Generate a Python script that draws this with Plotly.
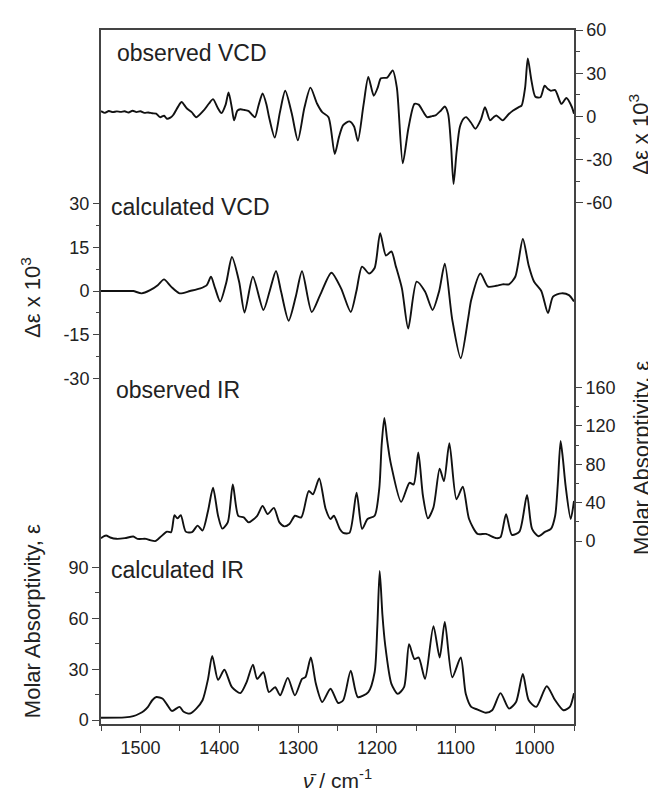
import plotly.graph_objects as go

# ---------------- data ----------------
obs_vcd_nu = [1550, 1545, 1540, 1535, 1530, 1525, 1520, 1515, 1510, 1505, 1500, 1495, 1490, 1485, 1480,
              1475, 1470, 1466.4, 1462, 1458.4, 1452, 1447.8, 1441, 1435, 1429.1, 1420, 1413, 1407.9,
              1402, 1397.2, 1392, 1388.2, 1384, 1381.2, 1377, 1373.2, 1368, 1362.6, 1358, 1354.6, 1350,
              1345.0, 1340, 1337, 1329.6, 1323, 1316.3, 1308, 1300.3, 1292, 1284.3, 1276, 1269.4,
              1261.4, 1253.5, 1248, 1242.8, 1234.8, 1229, 1224.2, 1217, 1210.9, 1204.0, 1199, 1194.9,
              1186.9, 1180.0, 1174.7, 1167.2, 1160, 1152.3, 1147.0, 1142, 1136.3, 1130, 1125.7, 1119,
              1113.9, 1109.7, 1106, 1102.8, 1099, 1094.8, 1090, 1086.8, 1081, 1075.1, 1068, 1062.9,
              1056.5, 1052, 1048.5, 1040.5, 1033, 1027.2, 1020, 1016.5, 1012, 1008.6, 1004, 999.0,
              992.6, 987.3, 983, 979.3, 973.9, 966.0, 959.6, 952.6, 950]
obs_vcd_val = [3.7, 2.5, 3.8, 3.0, 3.5, 3.2, 3.6, 2.8, 4.0, 3.0, 3.6, 2.5, 2.8, 2.2, 2.0,
               -0.5, 0.5, -1.6, -0.8, 1.0, 7, 10, 5.5, 3, -0.5, 4, 9, 12,
               6, 2.3, 8, 16.7, 6, -2.7, 4, 5, 4.5, 3.7, 1, -0.5, 8,
               16, 8, 0, -14.6, 3, 17.8, 2, -16.5, 6, 20, 9, 3,
               -0.5, -26, -14, -6, -3.4, -7, -17, 8, 27.4, 14.4, 20, 26.5,
               27, 32, 20, -32.5, -8, 8.7, 8.2, 4, -0.5, 0.2, 0.7, 4,
               6.9, 1.8, -20, -46.9, -25, -7.3, -1.5, -0.5, -4, -8.5, -2, 6.4,
               -2.7, -0.5, 0.7, -2.7, 1.5, 4.1, 6.5, 7.5, 20, 40.2, 25, 13.7,
               13.3, 21.3, 19, 17.8, 18.3, 8.7, 12.8, 6.4, 1.8]

calc_vcd_nu = [1550, 1530, 1515, 1509, 1498.4, 1487.7, 1478, 1470.1, 1461.1, 1450.4, 1437.1, 1423.8,
               1415.8, 1410.5, 1405.2, 1398.8, 1391, 1383.9, 1374.8, 1367.9, 1357.3, 1344.0, 1336,
               1328.0, 1321.6, 1312.0, 1303, 1295.0, 1282.7, 1272.1, 1257.7, 1245.5, 1233.2, 1226,
               1218.9, 1209.8, 1202.9, 1195.9, 1188.5, 1181.6, 1176.3, 1168.3, 1160.3, 1149.6, 1139.0,
               1129.4, 1121, 1113.9, 1104.4, 1093.7, 1084.2, 1080.4, 1068.7, 1059.1, 1048.5, 1040.5,
               1032.5, 1024.5, 1014.9, 1007.5, 1000.6, 991.5, 983.0, 976.6, 966.0, 956.4, 950]
calc_vcd_val = [0, 0, 0, 0, -0.8, 0.3, 2, 4.0, 1.5, -0.8, 0, 0.9,
                2.0, 4.9, 0.9, -3.6, 3, 11.7, 3.2, -7.4, 4.9, -6.5, 0,
                6.9, -0.2, -10.2, -2, 6.8, -7.2, -1.4, 6.3, 0.9, -7.2, 0,
                8.4, 6.0, 7.9, 19.9, 12.2, 13.6, 8.8, 0.9, -12.9, 3.2, -0.2,
                -6.5, 0, 9.4, -9.9, -23.1, -9.3, -3.1, 6.0, 1.5, 1.8, 2.3,
                2.3, 4.9, 17.9, 8.8, 3.2, 0, -7.6, -1.9, -0.8, -1.4, -3.6]

obs_ir_nu = [1550, 1543.6, 1538.3, 1530.3, 1519.7, 1509.0, 1503.7, 1493.0, 1487.7, 1481.3, 1477.1,
             1471.7, 1466.4, 1461.1, 1456.8, 1453.1, 1448.8, 1442.5, 1434.5, 1427.5, 1421.2, 1414.2,
             1407.9, 1401.5, 1396.1, 1389.2, 1382.8, 1375.9, 1369.0, 1362.6, 1351.9, 1345.0, 1338.6,
             1330.7, 1323.7, 1317.3, 1311.0, 1304.0, 1296.0, 1286.5, 1281.1, 1273.2, 1265.2, 1258.8,
             1254.6, 1247.1, 1242.8, 1234.8, 1225.8, 1218.8, 1211.9, 1202.9, 1197, 1194, 1190.6,
             1187, 1184, 1181.6, 1169.3, 1158.7, 1153.4, 1147.5, 1141.6, 1135.3, 1128.3, 1120.4,
             1115.0, 1108.1, 1099.1, 1091.1, 1083.1, 1072.4, 1061.8, 1048.5, 1043.2, 1036.2, 1028.8,
             1019.2, 1009.6, 1003.2, 995.2, 987.3, 979.3, 973.9, 970.5, 967.0, 964, 960.6, 954.2, 950]
obs_ir_val = [3.1, 5.8, 3.8, 2.4, 3.1, 4.8, 2.4, 2.4, 1.0, 0, 2.4,
              6.5, 9.9, 9.3, 27, 23.7, 27, 9.9, 9.3, 16.1, 11, 31.6,
              55.6, 26.4, 13, 19.5, 59, 26.4, 24.7, 19.5, 26.4, 36.7, 28.1,
              34.6, 19.5, 15.4, 17.8, 26.4, 24.7, 52.1, 48.7, 65.2, 34, 23,
              26.4, 12.7, 8.6, 8.6, 50.4, 12.7, 23, 26.4, 55, 100, 128.3,
              105, 88, 77.8, 40.8, 60.7, 59, 92.2, 47, 23.7, 35, 75.4,
              62.4, 101.9, 43.6, 56.6, 23, 7.5, 7.5, 3.1, 4.1, 28.1, 6.5,
              9.9, 48, 12.7, 5.1, 9.3, 12.7, 26.4, 60, 104.3, 85, 57.3, 23, 41.8]

calc_ir_nu = [1550, 1519.7, 1509.0, 1501.0, 1495.7, 1490.4, 1485.0, 1479.7, 1471.7, 1466.4, 1460.0,
              1450.4, 1445.1, 1437.1, 1429.1, 1421.2, 1414.2, 1408.9, 1401.5, 1393.5, 1383.9, 1373.2,
              1365.3, 1357.3, 1351.9, 1344.0, 1337.0, 1329.1, 1322.7, 1313.1, 1304.0, 1295.0, 1290.7,
              1283.8, 1277.4, 1269.4, 1258.8, 1249.2, 1242.8, 1233.2, 1224.2, 1210.9, 1202.9, 1199.5,
              1196.5, 1193, 1189.6, 1181.6, 1173.6, 1165.6, 1159.2, 1152.3, 1147.0, 1139.0, 1128.3,
              1120.4, 1113.9, 1104.4, 1093.7, 1087.3, 1080.4, 1072.4, 1061.8, 1053.8, 1043.2, 1032.5,
              1023.5, 1014.9, 1007.5, 997.9, 984.6, 973.9, 963.3, 955.3, 950]
calc_ir_val = [1.4, 1.6, 2.3, 3.9, 5.4, 7.8, 11.7, 13.6, 12.6, 9.3, 5.4,
               7.8, 4.9, 3.9, 6.8, 11.7, 24.3, 37.9, 23.7, 29.7, 19.4, 15.9,
               22.4, 32.7, 24.3, 28.2, 16.5, 19.4, 14.6, 24.9, 14.6, 24.3, 25.3,
               36.9, 21.4, 10.7, 18.5, 10.1, 11.7, 29.2, 13.6, 16.5, 28.2, 55,
               87.9, 62, 44.7, 21.4, 15.5, 19.4, 44.7, 36, 36.9, 24.3, 55.4,
               36.9, 57.9, 25.3, 36.9, 15.5, 7.8, 6.2, 4.3, 5.8, 15.9, 6.8,
               10.7, 27.2, 11.7, 7.8, 20, 11.7, 5.8, 7.8, 15.9]

x_ticks = [1500, 1400, 1300, 1200, 1100, 1000]
x_minor = [1550, 1450, 1350, 1250, 1150, 1050, 950]
calc_ir_ticks = [0, 30, 60, 90]
calc_ir_minor = [15, 45, 75]
calc_vcd_ticks = [-30, -15, 0, 15, 30]
calc_vcd_minor = [-22.5, -7.5, 7.5, 22.5]
obs_vcd_ticks = [-60, -30, 0, 30, 60]
obs_vcd_minor = [-45, -15, 15, 45]
obs_ir_ticks = [0, 40, 80, 120, 160]
obs_ir_minor = [20, 60, 100, 140]

# ---------------- figure ----------------
FONT = "Liberation Sans, Arial, sans-serif"
AX = "#444444"
TXT = "#222222"
OFF = 8                     # default page body margin
PAGE_W, PAGE_H = 656, 794
W, H = PAGE_W - OFF, PAGE_H - OFF
PX_L, PX_R, PX_T, PX_B = 101, 574, 22, 724    # plot frame in page pixels
L, T = PX_L - OFF, PX_T - OFF
R, B = W - (PX_R - OFF), H - (PX_B - OFF)
PW, PH = PX_R - PX_L, PX_B - PX_T

def px_x(px):
    return (px - PX_L) / PW

def px_y(py):
    return (PX_B - py) / PH

line = dict(color="#111111", width=1.9, shape="spline", smoothing=0.7)

fig = go.Figure()
fig.add_trace(go.Scatter(x=calc_ir_nu, y=calc_ir_val, mode="lines", line=line, yaxis="y",
                         showlegend=False, hoverinfo="skip"))
fig.add_trace(go.Scatter(x=calc_vcd_nu, y=calc_vcd_val, mode="lines", line=line, yaxis="y2",
                         showlegend=False, hoverinfo="skip"))
fig.add_trace(go.Scatter(x=obs_vcd_nu, y=obs_vcd_val, mode="lines", line=line, yaxis="y3",
                         showlegend=False, hoverinfo="skip"))
fig.add_trace(go.Scatter(x=obs_ir_nu, y=obs_ir_val, mode="lines", line=line, yaxis="y4",
                         showlegend=False, hoverinfo="skip"))

tickfont = dict(family=FONT, size=18, color=TXT)

def lab(v):
    s = f"{v:g}"
    return s  # plain hyphen-minus as in the reference

def yax(rng, ticks, minor, side, showline):
    return dict(range=rng, tickmode="array", tickvals=ticks, ticktext=[lab(t) for t in ticks],
                ticks="outside", ticklen=7,
                tickwidth=1.3, tickcolor=AX, tickfont=tickfont, side=side,
                showgrid=False, zeroline=False, showline=showline, linecolor=AX, linewidth=1.5,
                minor=dict(tickmode="array", tickvals=minor, ticks="outside", ticklen=4,
                           tickwidth=1.2, tickcolor=AX, showgrid=False),
                fixedrange=True)

fig.update_layout(
    width=W, height=H, autosize=False,
    margin=dict(l=L, r=R, t=T, b=B, pad=0),
    paper_bgcolor="white", plot_bgcolor="white",
    font=dict(family=FONT, color=TXT),
    xaxis=dict(range=[1550, 950], tickmode="array", tickvals=x_ticks, ticks="outside",
               ticklen=7, tickwidth=1.3, tickcolor=AX, tickfont=tickfont,
               showgrid=False, zeroline=False, showline=True, mirror=True,
               linecolor=AX, linewidth=1.5,
               minor=dict(tickmode="array", tickvals=x_minor, ticks="outside", ticklen=5,
                          tickwidth=1.2, tickcolor=AX, showgrid=False)),
    yaxis=yax([-2.3, 407], calc_ir_ticks, calc_ir_minor, "left", True),
    yaxis2=dict(overlaying="y", **yax([-148.8, 89.7], calc_vcd_ticks, calc_vcd_minor, "left", False)),
    yaxis3=dict(overlaying="y", **yax([-421.6, 60], obs_vcd_ticks, obs_vcd_minor, "right", True)),
    yaxis4=dict(overlaying="y", **yax([-190.3, 531.9], obs_ir_ticks, obs_ir_minor, "right", False)),
)

labels = [("observed VCD", 115, 45), ("calculated VCD", 109, 201),
          ("observed IR", 114, 386), ("calculated IR", 109, 568)]
for txt, x, y in labels:
    fig.add_annotation(text=txt, x=px_x(x), y=px_y(y), xref="paper", yref="paper",
                       xanchor="left", yanchor="middle", showarrow=False,
                       font=dict(family=FONT, size=23, color=TXT))

titles = [("Δε x 10<sup>3</sup>", 31, 293), ("Molar Absorptivity, ε", 32, 620),
          ("Δε x 10<sup>3</sup>", 639, 128), ("Molar Absorptivity, ε", 641, 455)]
for txt, x, y in titles:
    fig.add_annotation(text=txt, x=px_x(x), y=px_y(y), xref="paper", yref="paper",
                       xanchor="center", yanchor="middle", textangle=-90, showarrow=False,
                       font=dict(family=FONT, size=22, color=TXT))

fig.add_annotation(text="<i>ν̄</i> / cm<sup>-1</sup>", x=0.5, y=px_y(780), xref="paper", yref="paper",
                   xanchor="center", yanchor="middle", showarrow=False,
                   font=dict(family=FONT, size=21, color=TXT))

fig.write_html("out.html")
